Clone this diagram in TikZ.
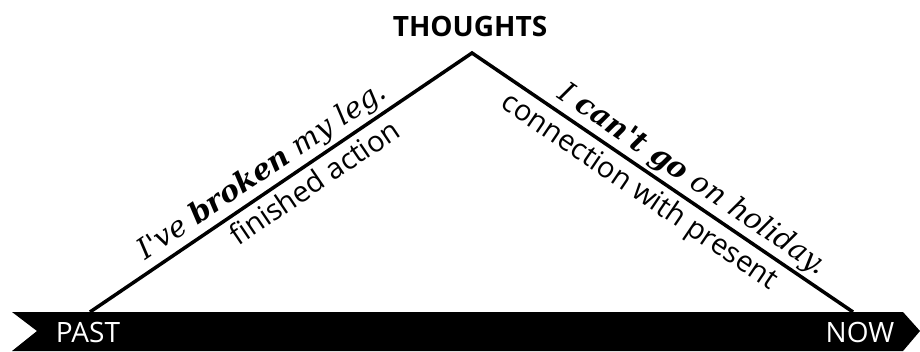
\documentclass[tikz,border=0pt]{standalone}
\usepackage{fontspec}
\setmainfont{Open Sans}
\newfontfamily\exfont{DejaVu Serif}

\tikzset{
  timeline/.style={fill=black},
  arm/.style={line width=3.5pt},
  label/.style={font=\fontsize{29}{32}\selectfont, inner sep=5pt},
  example/.style={font=\exfont\itshape\fontsize{29}{31}\selectfont, inner sep=3pt},
  tlabel/.style={text=white, font=\fontsize{28}{30}\selectfont}
}

\begin{document}
\begin{tikzpicture}[x=1pt,y=1pt]
\useasboundingbox (0,0) rectangle (920,351);
\fill[timeline] (12,39) -- (903,39) -- (920,20) -- (903,0) -- (12,0) -- (37,20) -- cycle;
\node[tlabel] (past) at (88,19) {PAST};
\node[tlabel] (now) at (860,19) {NOW};
\coordinate (start) at (90,39);
\coordinate (peak) at (472,298);
\coordinate (finish) at (853,39);
\node[label, font=\fontsize{28}{30}\selectfont\bfseries] (thoughts) at (470,325) {THOUGHTS};
\draw[arm, line join=miter] (start) --
  node[example, sloped, above, pos=0.48] (broken) {I've \textbf{broken} my leg.}
  node[label, sloped, below, pos=0.56] (finished) {finished action}
  (peak) --
  node[example, sloped, above, pos=0.55] (holiday) {I \textbf{can't go} on holiday.}
  node[label, sloped, below, pos=0.47] (connection) {connection with present}
  (finish);
\end{tikzpicture}
\end{document}
